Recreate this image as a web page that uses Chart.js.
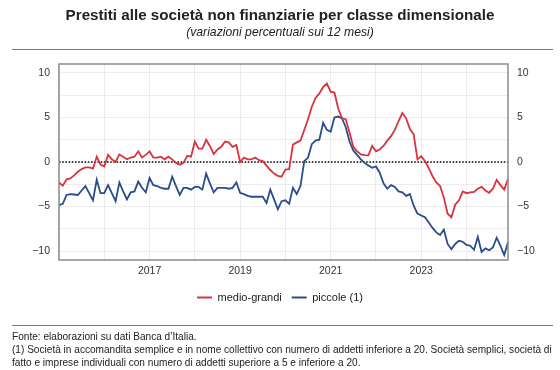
<!DOCTYPE html>
<html><head><meta charset="utf-8">
<script src="https://cdn.jsdelivr.net/npm/chart.js@4.4.1/dist/chart.umd.min.js"></script>
<style>
html,body{margin:0;padding:0;background:#fff;}
body{width:560px;height:370px;position:relative;overflow:hidden;font-family:"Liberation Sans",Arial,Helvetica,sans-serif;color:#222;}
#cv{position:absolute;left:0;top:0;}
.t{position:absolute;left:0;width:560px;text-align:center;white-space:nowrap;}
#title{top:6px;font-weight:bold;font-size:15.2px;}
#sub{top:25px;font-style:italic;font-size:12.2px;}
.rule{position:absolute;left:12px;width:541px;height:0;border-top:1.5px solid #7a7a7a;}
.foot{position:absolute;left:12px;font-size:10.1px;white-space:nowrap;line-height:12px;}
</style>
</head><body>
<canvas id="cv" width="560" height="370"></canvas>
<div class="t" id="title">Prestiti alle società non finanziarie per classe dimensionale</div>
<div class="t" id="sub">(variazioni percentuali sui 12 mesi)</div>
<div class="rule" style="top:49px"></div>
<div class="rule" style="top:325px"></div>
<div class="foot" style="top:331px">Fonte: elaborazioni su dati Banca d’Italia.</div>
<div class="foot" style="top:344px">(1) Società in accomandita semplice e in nome collettivo con numero di addetti inferiore a 20. Società semplici, società di</div>
<div class="foot" style="top:357px">fatto e imprese individuali con numero di addetti superiore a 5 e inferiore a 20.</div>
<script>
const years = [2015, 2016, 2017, 2018, 2019, 2020, 2021, 2022, 2023, 2024];
const months = ['01','02','03','04','05','06','07','08','09','10','11','12'];
const tickYears = ['2017', '2019', '2021', '2023'];
const yTickLabels = [-10, -5, 0, 5, 10];
const yGridValues = [-10, -7.5, -5, -2.5, 0, 2.5, 5, 7.5, 10];
const seriesNames = ['medio-grandi', 'piccole (1)'];

const medioGrandi = [
  -2.3, -2.65, -1.95, -1.85, -1.5, -1.1, -0.8, -0.6, -0.6, -0.75, 0.6, -0.3,
  -0.5, 0.8, 0.3, 0.0, 0.85, 0.6, 0.3, 0.5, 0.6, 1.2, 0.5, 0.8,
  1.2, 0.5, 0.5, 0.6, 0.3, 0.6, 0.3, -0.1, -0.3, -0.1, 0.7, 0.6,
  2.3, 1.5, 1.5, 2.5, 1.8, 0.9, 1.4, 1.7, 2.3, 2.2, 1.7, 1.9,
  0.0, 0.5, 0.3, 0.3, 0.5, 0.2, 0.1, -0.4, -0.9, -1.3, -1.55, -1.65,
  -0.85, -0.8, 1.95, 2.2, 2.4, 3.6, 4.8, 6.2, 7.2, 7.7, 8.4, 8.8,
  7.9, 7.8, 6.0, 4.9, 4.8, 3.3, 1.7, 1.2, 0.85, 0.78, 0.75, 1.8,
  1.2, 1.4, 1.8, 2.4, 2.9, 3.6, 4.6, 5.5, 4.9, 3.7, 3.1, 0.3,
  0.65, 0.1, -0.7, -1.6, -2.3, -2.7, -4.0, -5.8, -6.2, -4.8, -4.3, -3.3,
  -3.5, -3.4, -3.35, -3.0, -2.8, -3.2, -3.45, -3.0, -2.0, -2.6, -3.1, -1.9
];

const piccole = [
  -4.85, -4.7, -3.7, -3.6, -3.65, -3.7, -3.2, -2.7, -3.5, -4.3, -2.0, -3.5,
  -3.5, -2.6, -3.5, -4.4, -2.3, -3.3, -4.2, -3.4, -3.3, -2.2, -2.9, -3.4,
  -1.8, -2.6, -2.7, -2.9, -3.0, -3.0, -1.65, -2.7, -3.7, -2.9, -2.9, -3.1,
  -2.8, -2.8, -3.1, -1.3, -2.4, -3.4, -2.9, -2.9, -2.9, -3.0, -2.9, -2.3,
  -3.45, -3.6, -3.8, -3.9, -3.9, -3.9, -3.9, -4.6, -3.1, -4.2, -5.3, -4.4,
  -4.3, -4.7, -2.9, -3.6, -2.7, 0.1, 0.5, 2.0, 2.4, 2.5, 4.4, 3.6,
  3.4, 5.0, 5.1, 4.9, 3.9, 2.3, 1.3, 0.8, 0.3, -0.1, -0.4, -0.65,
  -0.5, -1.2, -2.4, -3.0, -2.6, -2.8, -3.3, -3.4, -3.8, -3.6, -4.9, -5.8,
  -6.0, -6.2, -6.8, -7.4, -7.9, -8.2, -7.6, -9.2, -9.8, -9.2, -8.85, -8.95,
  -9.3, -9.4, -9.85, -8.4, -10.1, -9.7, -9.9, -9.6, -8.5, -9.4, -10.45, -9.0
];

const categories = [];
years.forEach(y => months.forEach(m => categories.push(y + '-' + m)));

const RED = '#d8343f';
const BLUE = '#2a4c8c';
const TICK_FONT = {family: '"Liberation Sans", Arial, sans-serif', size: 10.5};
const LEGEND_FONT = {family: '"Liberation Sans", Arial, sans-serif', size: 11};
const fmt = v => (v < 0 ? '\u2212' + Math.abs(v) : String(v));

const framePlugin = {
  id: 'frame',
  beforeDatasetsDraw(chart) {
    const {ctx, chartArea: a, scales} = chart;
    const y0 = scales.y.getPixelForValue(0);
    ctx.save();
    ctx.strokeStyle = '#111';
    ctx.lineWidth = 1.4;
    ctx.setLineDash([1.6, 1.6]);
    ctx.beginPath();
    ctx.moveTo(a.left, y0);
    ctx.lineTo(a.right, y0);
    ctx.stroke();
    ctx.restore();
  },
  afterDraw(chart) {
    const {ctx, chartArea: a} = chart;
    ctx.save();
    ctx.strokeStyle = '#8a8a8a';
    ctx.lineWidth = 1.5;
    ctx.strokeRect(a.left, a.top, a.right - a.left, a.bottom - a.top);
    ctx.restore();
  }
};

const yTickCb = v => (yTickLabels.includes(v) ? fmt(v) : '');
const setYTicks = s => { s.ticks = yGridValues.map(v => ({value: v})); };

new Chart(document.getElementById('cv'), {
  type: 'line',
  data: {
    labels: categories,
    datasets: [
      {label: seriesNames[0], data: medioGrandi, borderColor: RED, backgroundColor: RED, borderWidth: 1.8, pointRadius: 0, tension: 0},
      {label: seriesNames[1], data: piccole, borderColor: BLUE, backgroundColor: BLUE, borderWidth: 1.8, pointRadius: 0, tension: 0}
    ]
  },
  options: {
    responsive: false,
    animation: false,
    layout: {padding: {top: 64, bottom: 57, left: 0, right: 0}},
    plugins: {
      tooltip: {enabled: false},
      title: {display: false},
      legend: {
        display: true,
        position: 'bottom',
        labels: {
          font: LEGEND_FONT,
          color: '#222',
          boxWidth: 15,
          boxHeight: 2,
          padding: 10,
          generateLabels(chart) {
            return chart.data.datasets.map((d, i) => ({
              text: d.label, fillStyle: d.borderColor, strokeStyle: d.borderColor,
              lineWidth: 0, hidden: false, datasetIndex: i, fontColor: '#222'
            }));
          }
        }
      }
    },
    scales: {
      x: {
        type: 'category',
        offset: false,
        border: {display: false},
        grid: {
          drawTicks: false,
          lineWidth: 1,
          color: c => (c.tick && String(categories[c.index]).endsWith('-01')) ? '#ececec' : 'rgba(0,0,0,0)'
        },
        ticks: {
          autoSkip: false, maxRotation: 0, minRotation: 0, padding: 5,
          font: TICK_FONT, color: '#333',
          callback: (v, i) => {
            const l = categories[i];
            const y = l.slice(0, 4);
            return (l.endsWith('-01') && tickYears.includes(y)) ? y : '';
          }
        },
        afterFit(s) { s.height = 22; }
      },
      y: {
        position: 'left',
        min: -11, max: 11,
        border: {display: false},
        grid: {drawTicks: false, color: '#ececec'},
        ticks: {padding: 9, font: TICK_FONT, color: '#333', callback: yTickCb},
        afterBuildTicks: setYTicks,
        afterFit(s) { s.width = 59; }
      },
      y2: {
        position: 'right',
        min: -11, max: 11,
        border: {display: false},
        grid: {display: false, drawTicks: false},
        ticks: {padding: 9, font: TICK_FONT, color: '#333', callback: yTickCb},
        afterBuildTicks: setYTicks,
        afterFit(s) { s.width = 52; }
      }
    }
  },
  plugins: [framePlugin]
});
</script>
</body></html>
